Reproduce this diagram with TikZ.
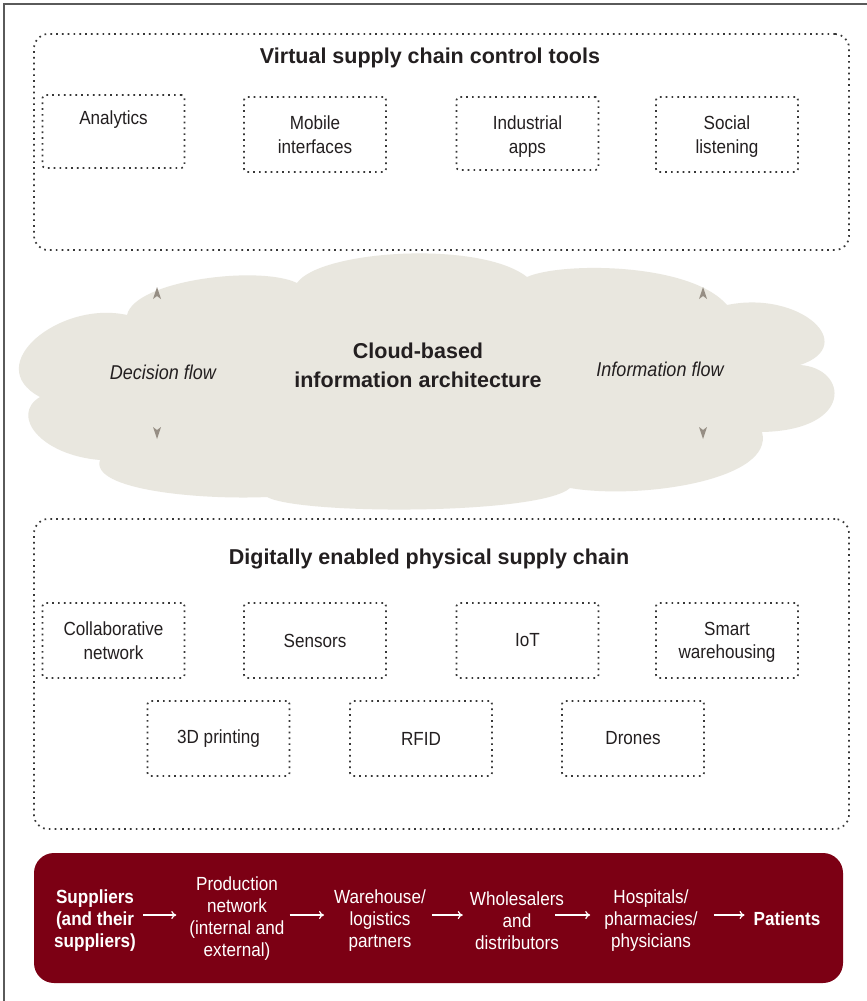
\documentclass[tikz,border=0pt]{standalone}
\usepackage{fontspec}
\setmainfont{Liberation Sans}[FakeStretch=0.9]
\newfontfamily\titlefont{Liberation Sans}
\usetikzlibrary{arrows.meta}
\definecolor{dotgray}{RGB}{55,55,55}
\definecolor{txt}{RGB}{35,31,32}
\definecolor{cloudfill}{RGB}{233,231,223}
\definecolor{flowtip}{RGB}{150,142,132}
\definecolor{chainred}{RGB}{124,0,20}
\definecolor{framegray}{RGB}{90,90,90}
\begin{document}
\begin{tikzpicture}[x=1pt,y=-1pt,
 dotline/.style={draw=dotgray, line width=1.7pt, dash pattern=on 1.7pt off 4.1pt},
 group/.style={dotline, rounded corners=14pt, inner sep=0pt},
 toolbox/.style={dotline, rounded corners=3pt, minimum width=142pt, minimum height=75pt, align=center, text=txt, font=\fontsize{19}{23.5}\selectfont, inner sep=0pt},
 grouptitle/.style={text=txt, font=\titlefont\bfseries\fontsize{21.5}{29}\selectfont, align=center, inner sep=0pt},
 flowlabel/.style={text=txt, font=\itshape\fontsize{20}{24}\selectfont, inner sep=0pt},
 stage/.style={text=white, align=center, font=\fontsize{19}{22}\selectfont, inner sep=0pt},
 stagebold/.style={stage, font=\bfseries\fontsize{19}{22}\selectfont},
 chainarrow/.style={draw=white, line width=1.2pt, -{To[length=5pt,width=8pt]}},
]
\useasboundingbox (0,0) rectangle (867,1001);
\fill[white] (0,0) rectangle (867,1001);
\draw[framegray, line width=2pt] (4,1001) -- (4,4) -- (867,4);

% top group
\node[group, minimum width=815pt, minimum height=216pt] (virtual) at (441.5,142) {};
\node[grouptitle] (vtitle) at (430,58) {Virtual supply chain control tools};
\node[toolbox, minimum height=73pt, text height=0pt, text depth=0pt] (analytics) at (113.5,131.5) {};
\node[text=txt, font=\fontsize{19}{23.5}\selectfont, inner sep=0pt] (analyticslabel) at (113.5,120) {Analytics};
\node[toolbox] (mobile) at (315,134.5) {Mobile\\interfaces};
\node[toolbox, minimum height=73pt] (industrial) at (527.5,133.5) {};
\node[text=txt, font=\fontsize{19}{23.5}\selectfont, inner sep=0pt, align=center] (industriallabel) at (527.5,136.5) {Industrial\\apps};
\node[toolbox] (social) at (727,134.5) {};
\node[text=txt, font=\fontsize{19}{23.5}\selectfont, inner sep=0pt, align=center] (sociallabel) at (727,136.5) {Social\\listening};

% cloud
\fill[cloudfill] (127,315)
  .. controls (135,280) and (260,265) .. (297,283)
  .. controls (320,250) and (480,240) .. (527,277)
  .. controls (560,262) and (690,262) .. (727,305)
  .. controls (800,290) and (860,345) .. (800,365)
  .. controls (848,368) and (855,430) .. (762,432)
  .. controls (775,480) and (640,500) .. (570,488)
  .. controls (540,515) and (300,515) .. (267,497)
  .. controls (200,500) and (90,490) .. (100,460)
  .. controls (40,455) and (10,415) .. (40,397)
  .. controls (-20,365) and (60,300) .. (127,315) -- cycle;
\node[grouptitle] (cloudtitle) at (418,365) {Cloud-based\\information architecture};
\node[flowlabel] (decision) at (163,372) {Decision flow};
\node[flowlabel] (information) at (660,369) {Information flow};
\fill[flowtip] (157,287) -- (161,299) -- (157,296) -- (153,299) -- cycle;
\fill[flowtip] (157,439) -- (161,427) -- (157,430) -- (153,427) -- cycle;
\fill[flowtip] (703,287) -- (707,299) -- (703,296) -- (699,299) -- cycle;
\fill[flowtip] (703,439) -- (707,427) -- (703,430) -- (699,427) -- cycle;

% bottom group
\node[group, minimum width=815pt, minimum height=310pt] (physical) at (441.5,674) {};
\node[grouptitle] (ptitle) at (429,559) {Digitally enabled physical supply chain};
\node[toolbox] (collab) at (113.5,640.5) {Collaborative\\network};
\node[toolbox] (sensors) at (315,640.5) {Sensors};
\node[toolbox] (iot) at (527.5,640.5) {IoT};
\node[toolbox] (smart) at (727,640.5) {};
\node[text=txt, font=\fontsize{19}{23.5}\selectfont, inner sep=0pt, align=center] (smartlabel) at (727,642.5) {Smart\\warehousing};
\node[toolbox] (printing) at (218.5,738.5) {3D printing};
\node[toolbox] (rfid) at (421,738.5) {RFID};
\node[toolbox] (drones) at (633,738.5) {Drones};

% chain
\node[fill=chainred, rounded corners=20pt, minimum width=809pt, minimum height=130pt, inner sep=0pt] (chain) at (438.5,918) {};
\node[stagebold] (suppliers) at (95,921) {Suppliers\\(and their\\suppliers)};
\node[stage] (production) at (237,919) {Production\\network\\(internal and\\external)};
\node[stage] (warehouse) at (380,921) {Warehouse/\\logistics\\partners};
\node[stage] (wholesalers) at (517,921) {Wholesalers\\and\\distributors};
\node[stage] (hospitals) at (651,921) {Hospitals/\\pharmacies/\\physicians};
\node[stagebold] (patients) at (787,919) {Patients};
\draw[chainarrow, shorten <=7pt, shorten >=13pt] (suppliers.east |- 0,915) -- (production.west |- 0,915);
\draw[chainarrow, shorten <=5pt, shorten >=10pt] (production.east |- 0,915) -- (warehouse.west |- 0,915);
\draw[chainarrow, shorten <=6pt, shorten >=7pt] (warehouse.east |- 0,915) -- (wholesalers.west |- 0,915);
\draw[chainarrow, shorten <=-9pt, shorten >=14pt] (wholesalers.east |- 0,915) -- (hospitals.west |- 0,915);
\draw[chainarrow, shorten <=16pt, shorten >=9pt] (hospitals.east |- 0,915) -- (patients.west |- 0,915);
\end{tikzpicture}
\end{document}
